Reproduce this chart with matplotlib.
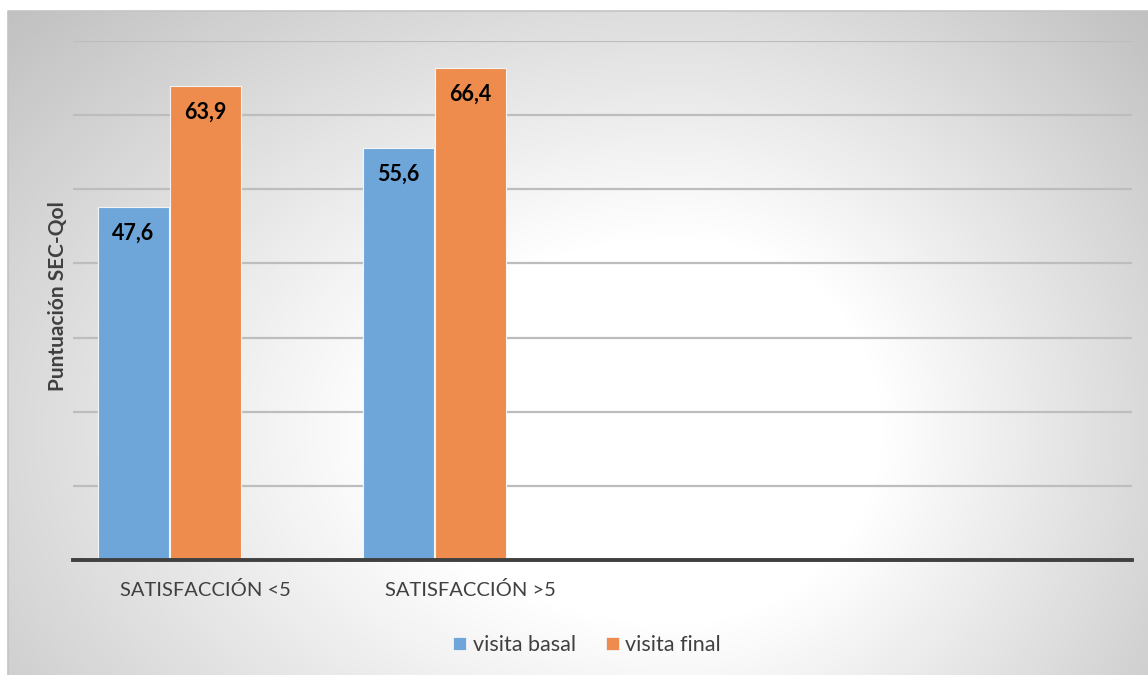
import numpy as np
import matplotlib

matplotlib.use("Agg")
import matplotlib.pyplot as plt  # noqa: E402
from matplotlib.patches import Patch  # noqa: E402

plt.rcParams["font.family"] = ["Lato", "DejaVu Sans"]

# chart data
categories = ["SATISFACCIÓN <5", "SATISFACCIÓN >5", "", ""]
series_names = ["visita basal", "visita final"]
basal = [47.6, 55.6]
final = [63.9, 66.4]
series_colors = ["#6fa6da", "#ee8c4d"]
y_max = 70
y_step = 10

W, H = 1148, 675
fig = plt.figure(figsize=(W / 100, H / 100), dpi=100)

# radial grey background of the chart area
bg = fig.add_axes([0, 0, 1, 1], zorder=-10)
yy, xx = np.mgrid[0:H, 0:W].astype(float)
cx, cy = 680.0, 430.0
ax_x = np.where(xx < cx, 650.0, 450.0)
d = np.hypot((xx - cx) / ax_x, (yy - cy) / 430.0)
shade = 1.0 - 0.24 * np.clip((d - 0.45) / 0.95, 0, 1)
shade[(xx < 8) | (yy < 11)] = 1.0
bg.imshow(np.dstack([shade] * 3), extent=(0, W, H, 0), aspect="auto",
          interpolation="bilinear")
bg.plot([8, 8, W], [H, 11, 11], color="#c4c4c4", lw=1.2)
bg.set_xlim(0, W)
bg.set_ylim(H, 0)
bg.axis("off")

ax = fig.add_axes([73 / W, 1 - 560 / H, (1132 - 73) / W, (560 - 41) / H])
ax.set_facecolor("none")

n_slots = 3  # room kept for a third, empty series
w = 0.272
x = np.arange(len(categories))
for i, (vals, col) in enumerate(zip([basal, final], series_colors)):
    pos = x[:len(vals)] + (i - (n_slots - 1) / 2) * w
    bars = ax.bar(pos, vals, w * 0.985, color=col, edgecolor="#f4f4f4",
                  linewidth=0.8, zorder=3, label=series_names[i])
    for b, v in zip(bars, vals):
        ax.annotate(f"{v:.1f}".replace(".", ","),
                    (b.get_x() + b.get_width() / 2, v),
                    xytext=(0, -19), textcoords="offset points",
                    ha="center", va="center", fontsize=15.5,
                    fontweight="bold", color="black", zorder=4)

ax.set_xlim(-0.5, len(categories) - 0.5)
ax.set_ylim(0, y_max)
ax.set_yticks(np.arange(0, y_max + 1, y_step))
ax.set_yticklabels([])
ax.yaxis.grid(True, color="#bdbdbd", lw=1.6, zorder=0)
ax.set_axisbelow(True)
ax.set_xticks(x)
ax.set_xticklabels(categories, fontsize=14.5, color="#404040")
ax.tick_params(axis="both", length=0)
ax.tick_params(axis="x", pad=15)
for side in ("top", "left", "right"):
    ax.spines[side].set_visible(False)
ax.spines["bottom"].set_color("#404040")
ax.spines["bottom"].set_linewidth(2.8)
ax.spines["bottom"].set_zorder(5)

fig.text(58 / W, 1 - 296 / H, "Puntuación SEC-Qol", rotation=90,
         ha="center", va="center", fontsize=15, fontweight="bold",
         color="#404040")

handles = [Patch(facecolor=c, edgecolor="#f4f4f4", lw=0.6) for c in series_colors]
fig.legend(handles, series_names, loc="center",
           bbox_to_anchor=(587 / W, 1 - 645 / H), ncol=2, frameon=False,
           fontsize=15.5, labelcolor="#404040", handlelength=0.6,
           handleheight=0.6, handletextpad=0.3, columnspacing=1.4)

fig.savefig("out.png", dpi=100)
